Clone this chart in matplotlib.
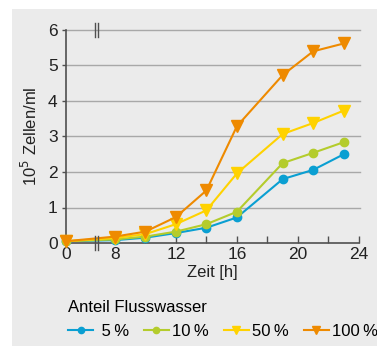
import numpy as np
import matplotlib.pyplot as plt
from matplotlib.patches import Rectangle

plt.rcParams["font.family"] = ["Liberation Sans", "DejaVu Sans"]

# Messzeitpunkte [h]
zeit = [0, 8, 10, 12, 14, 16, 19, 21, 23]

# 10^5 Zellen/ml je Anteil Flusswasser
zellen_5 = [0.05, 0.08, 0.15, 0.28, 0.43, 0.72, 1.80, 2.06, 2.50]
zellen_10 = [0.05, 0.10, 0.18, 0.32, 0.53, 0.88, 2.25, 2.54, 2.84]
zellen_50 = [0.05, 0.14, 0.25, 0.53, 0.92, 1.96, 3.07, 3.38, 3.73]
zellen_100 = [0.05, 0.18, 0.32, 0.73, 1.48, 3.29, 4.73, 5.40, 5.62]

labels = [" 5\u2009%", "10\u2009%", "50\u2009%", "100\u2009%"]

BG = "#ebebeb"
AXC = "#505050"


# gebrochene Zeitachse: 0..8 h gestaucht
def fwd(h):
    return np.interp(h, [0, 8, 24], [0, 3.2, 19.2])


def inv(p):
    return np.interp(p, [0, 3.2, 19.2], [0, 8, 24])


fig = plt.figure(figsize=(3.77, 3.46), dpi=100)
fig.patch.set_facecolor("white")
fig.patches.append(Rectangle((12 / 377, 0), 1, 1 - 9 / 346, transform=fig.transFigure,
                             facecolor=BG, edgecolor="none", zorder=-10))

ax = fig.add_axes([66 / 377, 1 - 243 / 346, (359 - 66) / 377, (243 - 30) / 346])
ax.set_facecolor("none")
ax.set_xscale("function", functions=(fwd, inv))
ax.set_xlim(0, 24)
ax.set_ylim(0, 6)

for y in range(1, 7):
    ax.axhline(y, color="#a8a8a8", lw=1.0, zorder=0, xmax=1.005, clip_on=False)

series = [
    (zellen_5, "#0a9fd2", "o", 6),
    (zellen_10, "#b4cc2c", "o", 6),
    (zellen_50, "#ffd200", "v", 8),
    (zellen_100, "#ee8a00", "v", 8),
]
for (vals, col, mk, ms), lab in zip(series, labels):
    ax.plot(zeit, vals, color=col, marker=mk, ms=ms, lw=1.5, label=lab,
            clip_on=False, zorder=3)

for s in ["top", "right"]:
    ax.spines[s].set_visible(False)
for s in ["left", "bottom"]:
    ax.spines[s].set_color(AXC)
    ax.spines[s].set_linewidth(1.2)

ax.set_xticks([0, 8, 10, 12, 14, 16, 18, 20, 22, 24])
ax.set_xticklabels(["0", "8", "", "12", "", "16", "", "20", "", "24"])
ax.set_yticks(range(7))
ax.tick_params(axis="x", direction="in", length=5, width=1, color=AXC, labelsize=12.5,
               labelcolor="#222222", pad=3)
ax.tick_params(axis="y", direction="out", length=3, width=1, color=AXC, labelsize=12.5,
               labelcolor="#222222", pad=3)

ax.set_xlabel("Zeit [h]", fontsize=12, color="#222222", labelpad=2)
ax.set_ylabel("10$^5$ Zellen/ml", fontsize=12, color="#222222", labelpad=6)

# Bruchzeichen
for h in [4.75, 5.25]:
    ax.plot([h, h], [-0.21, 0.21], color=AXC, lw=1.0, clip_on=False, zorder=4)
    ax.plot([h, h], [5.79, 6.21], color=AXC, lw=1.0, clip_on=False, zorder=4)

leg = fig.legend(loc="upper left", bbox_to_anchor=(60 / 377, 1 - 292 / 346), ncol=4,
                 frameon=False, title="Anteil Flusswasser", alignment="left",
                 fontsize=12, title_fontsize=12, handlelength=1.5, handletextpad=0.2,
                 columnspacing=0.9, borderpad=0, markerscale=0.75)

fig.savefig("out.png", dpi=100, facecolor="white")
